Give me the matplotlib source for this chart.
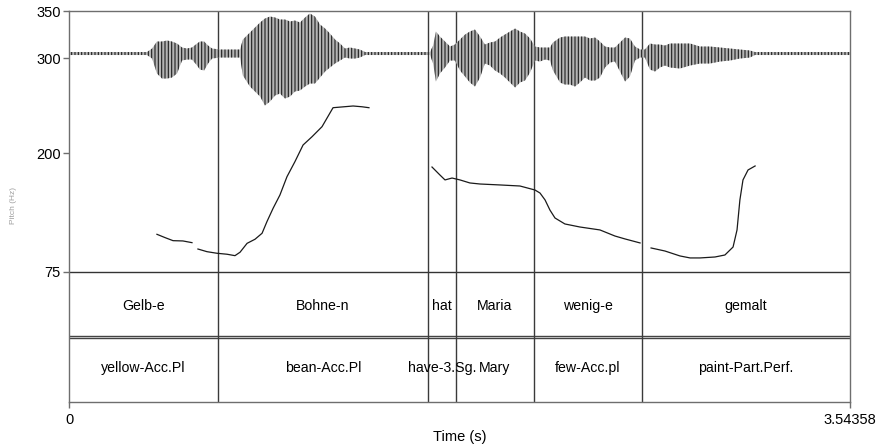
import numpy as np
import matplotlib.pyplot as plt

plt.rcParams['font.family'] = ['Liberation Sans', 'DejaVu Sans']
plt.rcParams['hatch.linewidth'] = 0.8

# ------------------ data ------------------
t_end = 3.54358

# interval boundaries (s) and labels
bounds = [0.0, 0.676, 1.629, 1.756, 2.110, 2.600, t_end]
words = ["Gelb-e", "Bohne-n", "hat", "Maria", "wenig-e", "gemalt"]
glosses = ["yellow-Acc.Pl", "bean-Acc.Pl", "have-3.Sg.", "Mary", "few-Acc.pl", "paint-Part.Perf."]

# waveform envelope (s, upper amp, lower amp) - amplitude in arbitrary units
wave_t = [0.0, 0.141, 0.354, 0.377, 0.399, 0.422, 0.445, 0.467, 0.490, 0.513, 0.535,
          0.558, 0.581, 0.594, 0.613, 0.631, 0.649, 0.685, 0.730, 0.776, 0.789, 0.821,
          0.844, 0.867, 0.889, 0.912, 0.935, 0.957, 0.980, 1.003, 1.025, 1.048, 1.071,
          1.093, 1.116, 1.139, 1.162, 1.184, 1.207, 1.230, 1.252, 1.275, 1.298, 1.320,
          1.343, 1.638, 1.652, 1.665, 1.683, 1.706, 1.729, 1.751, 1.774, 1.797, 1.819,
          1.842, 1.865, 1.887, 1.910, 1.933, 1.956, 1.978, 2.001, 2.024, 2.046, 2.069,
          2.092, 2.114, 2.137, 2.160, 2.182, 2.196, 2.228, 2.250, 2.273, 2.296, 2.318,
          2.341, 2.364, 2.387, 2.409, 2.432, 2.455, 2.477, 2.500, 2.523, 2.545, 2.568,
          2.591, 2.613, 2.636, 2.659, 2.681, 2.704, 2.727, 2.772, 2.818, 2.863, 2.908,
          2.954, 2.999, 3.044, 3.090, 3.112, t_end]
wave_hi = [1.5, 1.5, 1.5, 5, 12, 12, 13, 12, 10, 6, 5,
           6, 10, 12, 12, 8, 5, 4, 4, 4, 14, 21,
           26, 31, 35, 37, 36, 34, 34, 32, 33, 31, 36,
           40, 37, 29, 25, 20, 14, 10, 5, 6, 5, 4,
           1.5, 1.5, 8, 22, 17, 12, 7, 9, 14, 19, 22,
           24, 17, 9, 11, 12, 16, 19, 22, 25, 22, 20,
           15, 7, 6, 6, 6, 11, 16, 17, 17, 17, 17,
           17, 15, 16, 12, 7, 6, 6, 11, 16, 15, 7,
           4, 4, 10, 9, 9, 8, 10, 10, 10, 7, 7,
           6, 5, 4, 3, 1.5, 1.5]
wave_lo = [1.5, 1.5, 1.5, 5, 20, 25, 25, 24, 20, 7, 6,
           6, 12, 16, 17, 10, 5, 4, 4, 4, 22, 33,
           38, 43, 52, 48, 42, 40, 45, 43, 38, 37, 33,
           30, 30, 24, 18, 14, 10, 7, 4, 5, 5, 4,
           1.5, 1.5, 10, 28, 20, 14, 7, 7, 17, 23, 29,
           33, 24, 10, 12, 17, 20, 24, 29, 34, 29, 27,
           19, 7, 8, 6, 7, 17, 29, 31, 31, 33, 29,
           24, 27, 27, 24, 14, 9, 8, 18, 28, 23, 7,
           4, 4, 16, 18, 14, 12, 14, 15, 12, 10, 10,
           8, 7, 5, 4, 1.5, 1.5]

# pitch contour (s, Hz), nan = unvoiced gap
pitch_t = [0.399, 0.436, 0.472, 0.517, 0.558, np.nan,
           0.585, 0.626, 0.672, 0.717, 0.753, 0.776, 0.808, 0.844, 0.876, 0.898, 0.926,
           0.957, 0.989, 1.025, 1.062, 1.103, 1.148, 1.198, 1.289, 1.329, 1.361, np.nan,
           1.647, 1.683, 1.706, 1.738, 1.774, 1.819, 1.865, 1.956, 2.046, 2.114, 2.137,
           2.160, 2.182, 2.205, 2.250, 2.318, 2.409, 2.477, 2.523, 2.591, np.nan,
           2.641, 2.704, 2.772, 2.818, 2.863, 2.931, 2.976, 3.013, 3.031, 3.044, 3.058,
           3.081, 3.113]
pitch_hz = [114.7, 111.2, 108.0, 107.7, 105.9, np.nan,
            99.2, 96.4, 94.7, 93.7, 92.2, 95.8, 105.2, 109.5, 115.8, 128.0, 142.1,
            156.1, 175.4, 191.2, 208.8, 217.6, 228.1, 248.1, 249.9, 249.1, 248.1, np.nan,
            185.6, 177.2, 172.0, 174.0, 172.0, 168.8, 167.7, 166.7, 165.6, 161.4, 158.2,
            150.9, 140.3, 131.9, 125.6, 122.4, 119.3, 112.9, 109.8, 105.6, np.nan,
            100.3, 97.1, 91.9, 89.8, 89.8, 90.8, 92.9, 101.3, 119.3, 150.9, 172.0,
            182.5, 186.7]

yticks = [75, 200, 300, 350]

# ------------------ layout constants ------------------
y_bottom = -62.0
wave_center = 305.2
wave_scale = 1.054
tier1_bottom = 7.56
tier2_top = 5.45
tier1_text = 39.2
tier2_text = -26.2
frame = '#6e6e6e'

fig = plt.figure(figsize=(8.79, 4.46), dpi=100)
ax = fig.add_axes([69/879, 1-402/446, 781/879, 391/446])
ax.set_xlim(0, t_end)
ax.set_ylim(y_bottom, 350)

# waveform
wt = np.array(wave_t)
hi = wave_center + np.array(wave_hi) * wave_scale
lo = wave_center - np.array(wave_lo) * wave_scale
ax.fill_between(wt, lo, hi, facecolor='#b4b4b4', edgecolor='#1e1e1e',
                hatch='|||||', linewidth=0, zorder=2)

# pitch
ax.plot(pitch_t, pitch_hz, color='#1a1a1a', lw=0.9, zorder=3)

# tiers
ax.axhline(75, color='#333333', lw=1, zorder=1)
ax.axhline(tier1_bottom, color='#444444', lw=1, zorder=1)
ax.axhline(tier2_top, color='#444444', lw=1, zorder=1)
ax.vlines(bounds[1:-1], y_bottom, 350, color='#3a3a3a', lw=1, zorder=1)

for i in range(len(words)):
    mid = (bounds[i] + bounds[i+1]) / 2
    ax.text(mid, tier1_text, words[i], ha='center', va='center', fontsize=10.2)
    ax.text(mid, tier2_text, glosses[i], ha='center', va='center', fontsize=10.2)

# axes styling
for s in ax.spines.values():
    s.set_color(frame)
    s.set_linewidth(1)
ax.set_yticks(yticks)
ax.set_yticklabels([str(v) for v in yticks])
ax.set_xticks([0, t_end])
ax.set_xticklabels(["0", "3.54358"])
ax.tick_params(axis='both', direction='out', color=frame, labelsize=10.5, width=1)
ax.tick_params(axis='y', length=4, pad=2)
ax.tick_params(axis='x', length=4, pad=4)
ax.set_xlabel("Time (s)", fontsize=10.5, labelpad=2)
fig.text(14/879, 1-205/446, "Pitch (Hz)", rotation=90, fontsize=6,
         color='#a0a0a0', ha='center', va='center')

plt.savefig("out.png", dpi=100)
